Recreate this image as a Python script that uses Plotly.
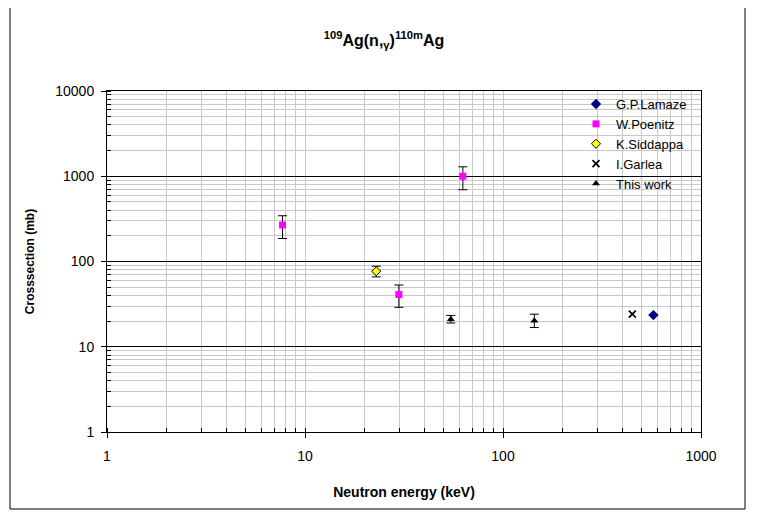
import plotly.graph_objects as go

# ---- data ----
lamaze_x = [575]
lamaze_y = [23.5]

poenitz_x = [7.7, 29.8, 62.7]
poenitz_y = [268, 41, 1000]
poenitz_err_plus = [76, 12, 290]
poenitz_err_minus = [82, 12, 305]

siddappa_x = [22.9]
siddappa_y = [77]
siddappa_err_plus = [11]
siddappa_err_minus = [11]

garlea_x = [450]
garlea_y = [24.2]

thiswork_x = [54.5, 144]
thiswork_y = [21, 20.2]
thiswork_err_plus = [2.3, 3.9]
thiswork_err_minus = [2.0, 3.4]

x_tickvals = [1, 10, 100, 1000]
x_ticktext = ["1", "10", "100", "1000"]
y_tickvals = [1, 10, 100, 1000, 10000]
y_ticktext = ["1", "10", "100", "1000", "10000"]

FONT = "Liberation Sans, Arial, sans-serif"
OFF = 8  # page body margin

fig = go.Figure()

def eb(plus, minus):
    return dict(type="data", symmetric=False, array=plus, arrayminus=minus,
                color="black", thickness=1, width=4.5)

fig.add_trace(go.Scatter(x=lamaze_x, y=lamaze_y, mode="markers", name="G.P.Lamaze",
                         marker=dict(symbol="diamond", size=8, color="#000080",
                                     line=dict(width=0))))
fig.add_trace(go.Scatter(x=poenitz_x, y=poenitz_y, mode="markers", name="W.Poenitz",
                         marker=dict(symbol="square", size=7, color="#FF00FF",
                                     line=dict(width=0)),
                         error_y=eb(poenitz_err_plus, poenitz_err_minus)))
fig.add_trace(go.Scatter(x=siddappa_x, y=siddappa_y, mode="markers", name="K.Siddappa",
                         marker=dict(symbol="diamond", size=7, color="#FFFF00",
                                     line=dict(width=1, color="black")),
                         error_y=eb(siddappa_err_plus, siddappa_err_minus)))
fig.add_trace(go.Scatter(x=garlea_x, y=garlea_y, mode="markers", name="I.Garlea",
                         marker=dict(symbol="x-thin", size=7, color="black",
                                     line=dict(width=1.7, color="black"))))
fig.add_trace(go.Scatter(x=thiswork_x, y=thiswork_y, mode="markers", name="This work",
                         marker=dict(symbol="triangle-up", size=7, color="black",
                                     line=dict(width=0)),
                         error_y=eb(thiswork_err_plus, thiswork_err_minus)))

W, H = 760 - OFF, 514 - OFF
# target plot area in screenshot pixels: x 107..701, y 91..432
L = 107 - OFF
T = 91 - OFF
R = W - (701 - OFF)
B = H - (432 - OFF)
pw, ph = W - L - R, H - T - B

def px2x(px):
    return (px - OFF - L) / pw

def py2y(py):
    return (H - B - (py - OFF)) / ph

fig.update_layout(
    width=W, height=H,
    margin=dict(l=L, r=R, t=T, b=B),
    paper_bgcolor="white", plot_bgcolor="white",
    font=dict(family=FONT, size=12, color="black"),
    title=dict(text="<b><sup>109</sup>Ag(n,<sub>γ</sub>)<sup>110m</sup>Ag</b>",
               x=0.5, xanchor="center", y=1 - (40 - OFF) / H, yanchor="middle",
               font=dict(family=FONT, size=16, color="black")),
    showlegend=True,
    legend=dict(x=px2x(576), xanchor="left", y=py2y(89), yanchor="top",
                bgcolor="rgba(0,0,0,0)", borderwidth=0,
                font=dict(family=FONT, size=13, color="black"),
                itemwidth=30, tracegroupgap=0),
    xaxis=dict(type="log", range=[0, 3],
               tickvals=x_tickvals, ticktext=x_ticktext,
               ticks="outside", ticklen=5, tickcolor="black",
               ticklabelstandoff=6,
               showline=True, linecolor="black", linewidth=1, mirror=True,
               showgrid=True, gridcolor="#c8c8c8", gridwidth=1,
               minor=dict(dtick="D1", showgrid=True, gridcolor="#c8c8c8",
                          ticks="inside", ticklen=4, tickcolor="black"),
               zeroline=False,
               tickfont=dict(family=FONT, size=14),
               title=dict(text="<b>Neutron energy (keV)</b>",
                          font=dict(family=FONT, size=14), standoff=24)),
    yaxis=dict(type="log", range=[0, 4],
               tickvals=y_tickvals, ticktext=y_ticktext,
               ticks="outside", ticklen=5, tickcolor="black",
               ticklabelstandoff=4,
               showline=True, linecolor="black", linewidth=1, mirror=True,
               showgrid=True, gridcolor="black", gridwidth=1,
               minor=dict(dtick="D1", showgrid=True, gridcolor="#c8c8c8",
                          ticks="inside", ticklen=4, tickcolor="black"),
               zeroline=False,
               tickfont=dict(family=FONT, size=14),
               title=dict(text="<b>Crosssection (mb)</b>",
                          font=dict(family=FONT, size=12), standoff=18)),
    shapes=[
        dict(type="rect", xref="paper", yref="paper",
             x0=px2x(10), x1=px2x(745), y0=py2y(509), y1=py2y(7),
             line=dict(color="black", width=1), fillcolor="rgba(0,0,0,0)",
             layer="below"),
        dict(type="rect", xref="paper", yref="paper",
             x0=px2x(568), x1=1, y0=py2y(197), y1=1,
             line=dict(width=0), fillcolor="white", layer="between"),
    ],
)

fig.write_html("out.html")
